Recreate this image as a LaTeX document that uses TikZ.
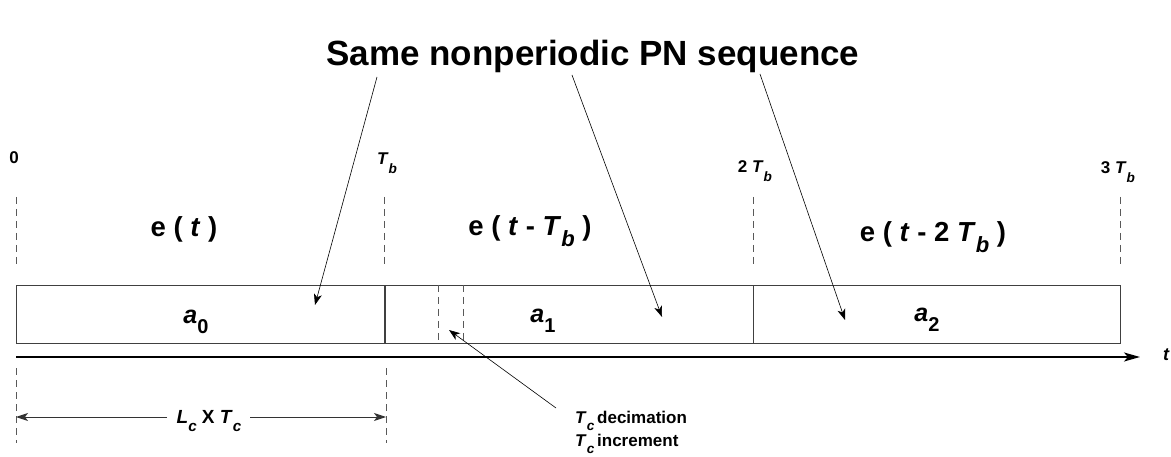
\documentclass[tikz,border=0pt]{standalone}
\usepackage{fontspec}
\setmainfont{Liberation Sans}
\usepackage{graphicx}
\usetikzlibrary{arrows.meta}
\newcommand\lsub[1]{\raisebox{-0.42em}{\scalebox{0.8}{#1}}}
\newcommand\tsub[1]{\raisebox{-0.52em}{\scalebox{0.8}{#1}}}
\begin{document}
\begin{tikzpicture}[x=1pt,y=-1pt,
  box/.style={draw=black!75, line width=1pt, minimum height=58pt, inner sep=0pt, anchor=north west},
  vdash/.style={dash pattern=on 7pt off 5pt, line width=0.8pt, draw=black!65},
  ptr/.style={-{Stealth[length=11pt,width=8pt,inset=3pt]}, line width=0.6pt},
  tick/.style={font=\fontsize{17}{19}\selectfont\bfseries, inner sep=0pt},
  sig/.style={font=\fontsize{27.5}{30}\selectfont\bfseries, inner sep=0pt},
  sym/.style={font=\fontsize{25}{28}\selectfont\bfseries, inner sep=0pt},
  note/.style={font=\fontsize{17}{23}\selectfont\bfseries, inner sep=0pt, align=left}
]
\useasboundingbox (0,0) rectangle (1171,457);

% title
\node[font=\fontsize{35}{38}\selectfont\bfseries, inner sep=0pt] (title) at (593,56) {Same nonperiodic PN sequence};

% boxes
\node[box, minimum width=368pt] (b0) at (16,285) {};
\node[box, minimum width=368pt] (b1) at (385,285) {};
\node[box, minimum width=367pt] (b2) at (753,285) {};

% chip dashed lines inside box 1
\draw[vdash] (438,285) -- (438,343);
\draw[vdash] (463,285) -- (463,343);

% symbols
\node[sym] (a0) at (196,322) {\textit{a}\lsub{0}};
\node[sym] (a1) at (543,321) {\textit{a}\lsub{1}};
\node[sym] (a2) at (927,320) {\textit{a}\lsub{2}};

% time axis
\coordinate (ax0) at (16,357);
\coordinate (ax1) at (1140,357);
\draw[line width=2pt, -{Stealth[length=16pt,width=9pt,inset=4pt]}] (ax0) -- (ax1);
\node[font=\fontsize{18}{20}\selectfont\bfseries\itshape, inner sep=0pt] (tlab) at (1166,355) {t};

% top dashed markers
\draw[vdash] (16,197) -- (16,268);
\draw[vdash] (384,197) -- (384,268);
\draw[vdash] (753,197) -- (753,268);
\draw[vdash] (1120,197) -- (1120,268);

% tick labels
\node[tick] (t0) at (14,158) {0};
\node[tick] (t1) at (387,163) {\textit{T}\tsub{\textit{b}}};
\node[tick] (t2) at (755,171) {2 \textit{T}\tsub{\textit{b}}};
\node[tick] (t3) at (1118,172) {3 \textit{T}\tsub{\textit{b}}};

% signal labels
\node[sig] (e0) at (184,229) {e ( \textit{t} )};
\node[sig] (e1) at (530,231) {e ( \textit{t} - \textit{T}\lsub{\textit{b}} )};
\node[sig] (e2) at (933,237) {e ( \textit{t} - 2 \textit{T}\lsub{\textit{b}} )};

% pointers from the title
\coordinate (s0) at (377,77);
\coordinate (s1) at (572,75);
\coordinate (s2) at (760,74);
\coordinate (p0) at (315,305);
\coordinate (p1) at (662,317);
\coordinate (p2) at (845,320);
\draw[ptr] (s0) -- (p0);
\draw[ptr] (s1) -- (p1);
\draw[ptr] (s2) -- (p2);

% bottom dashed markers and span
\draw[vdash] (16,368) -- (16,443);
\draw[vdash] (386,368) -- (386,443);
\node[font=\fontsize{19}{21}\selectfont\bfseries, inner sep=0pt] (span) at (209,421) {\textit{L}\lsub{\textit{c}} X \textit{T}\lsub{\textit{c}}};
\coordinate (sl) at (16,417);
\coordinate (sr) at (386,417);
\coordinate (gl) at (167,417);
\coordinate (gr) at (250,417);
\draw[line width=1pt, draw=black!80, -{Stealth[length=12pt,width=8pt,inset=3pt]}] (gl) -- (sl);
\draw[line width=1pt, draw=black!80, -{Stealth[length=12pt,width=8pt,inset=3pt]}] (gr) -- (sr);

% chip annotation
\node[note, anchor=north west] (chip) at (575,411) {\textit{T}\lsub{\textit{c}}\,decimation\\\textit{T}\lsub{\textit{c}}\,increment};
\coordinate (cs) at (556,408);
\coordinate (ct) at (449,330);
\draw[ptr] (cs) -- (ct);
\end{tikzpicture}
\end{document}
